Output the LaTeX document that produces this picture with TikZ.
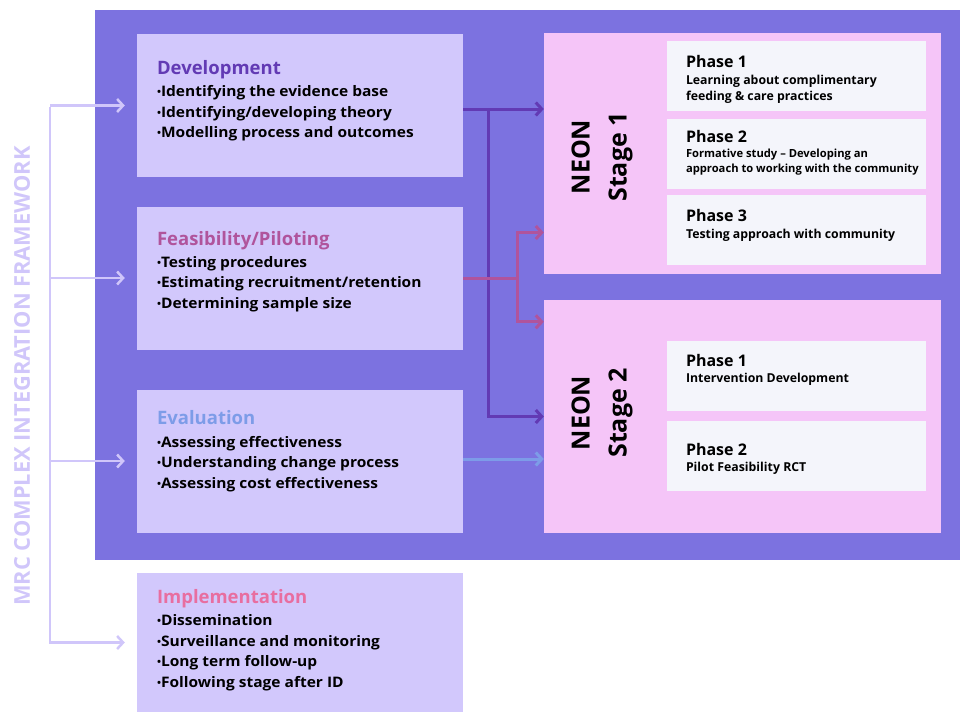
\documentclass[tikz,border=0pt]{standalone}
\usepackage{fontspec}
\setmainfont{Open Sans}
\newfontfamily\widesans{Open Sans}[FakeStretch=1.07]
\usetikzlibrary{arrows.meta}

\definecolor{framebg}{RGB}{124,114,224}
\definecolor{boxbg}{RGB}{210,200,252}
\definecolor{stagebg}{RGB}{245,197,248}
\definecolor{phasebg}{RGB}{244,245,251}
\definecolor{devcol}{RGB}{98,58,180}
\definecolor{feacol}{RGB}{176,84,156}
\definecolor{evacol}{RGB}{125,156,232}
\definecolor{impcol}{RGB}{232,110,160}
\definecolor{mrccol}{RGB}{208,198,250}

\newcommand\bul{\raisebox{1.2pt}{\fontsize{10}{10}\selectfont•}}

\tikzset{
  mrcbox/.style={fill=boxbg, inner sep=0pt, minimum width=326pt, minimum height=143pt},
  stagebox/.style={fill=stagebg, inner sep=0pt, minimum width=397pt},
  phasebox/.style={fill=phasebg, inner sep=0pt, minimum width=259pt, minimum height=70pt},
  boxtitle/.style={anchor=base west, inner sep=0pt, font=\fontsize{18.5}{22}\selectfont\bfseries},
  bullets/.style={anchor=base west, inner sep=0pt, align=left, font=\widesans\fontsize{14.5}{20.5}\selectfont\bfseries},
  phasetitle/.style={anchor=base west, inner sep=0pt, font=\fontsize{16}{18}\selectfont\bfseries},
  phasetext/.style={anchor=base west, inner sep=0pt, align=left, font=\fontsize{12.3}{16}\selectfont\bfseries},
  stagename/.style={rotate=90, align=center, inner sep=0pt, font=\fontsize{25}{37}\selectfont\bfseries},
  arr/.style={line width=3pt, -{Straight Barb[length=6pt, width=13pt]}},
  bracket/.style={mrccol, line width=2.5pt}
}

\begin{document}
\begin{tikzpicture}[x=1pt, y=-1pt]
\useasboundingbox (0,0) rectangle (960,712);
\fill[framebg] (95,10) rectangle (960,560);

% MRC stages
\node[mrcbox] (dev) at (300,105.5) {};
\node[mrcbox] (fea) at (300,278) {};
\node[mrcbox] (eva) at (300,461) {};
\node[mrcbox, minimum height=139pt] (imp) at (300,642.5) {};

% multi-line nodes are placed at the baseline of their last line
\node[boxtitle, devcol] (devt) at ([shift={(20,41)}]dev.north west) {Development};
\node[bullets] (devb) at ([shift={(20,104)}]dev.north west) {\bul Identifying the evidence base\\\bul Identifying/developing theory\\\bul Modelling process and outcomes};
\node[boxtitle, feacol] (feat) at ([shift={(20,39)}]fea.north west) {Feasibility/Piloting};
\node[bullets] (feab) at ([shift={(20,102)}]fea.north west) {\bul Testing procedures\\\bul Estimating recruitment/retention\\\bul Determining sample size};
\node[boxtitle, evacol] (evat) at ([shift={(20,35)}]eva.north west) {Evaluation};
\node[bullets] (evab) at ([shift={(20,99)}]eva.north west) {\bul Assessing effectiveness\\\bul Understanding change process\\\bul Assessing cost effectiveness};
\node[boxtitle, impcol] (impt) at ([shift={(20,31)}]imp.north west) {Implementation};
\node[bullets] (impb) at ([shift={(20,114.5)}]imp.north west) {\bul Dissemination\\\bul Surveillance and monitoring\\\bul Long term follow-up\\\bul Following stage after ID};

% NEON stages
\node[stagebox, minimum height=241pt] (s1) at (742.5,153.5) {};
\node[stagebox, minimum height=233pt] (s2) at (742.5,416.5) {};
\node[stagename] (s1n) at (602,157) {NEON\\Stage 1};
\node[stagename] (s2n) at (602,413) {NEON\\Stage 2};

\node[phasebox] (p11) at (796.5,76) {};
\node[phasebox] (p12) at (796.5,154) {};
\node[phasebox] (p13) at (796.5,230) {};
\node[phasebox] (p21) at (796.5,376) {};
\node[phasebox] (p22) at (796.5,456) {};

\node[phasetitle] at ([shift={(19,27)}]p11.north west) {Phase 1};
\node[phasetext] at ([shift={(19,60)}]p11.north west) {Learning about complimentary\\feeding \& care practices};
\node[phasetitle] at ([shift={(19,24)}]p12.north west) {Phase 2};
\node[phasetext, font=\fontsize{11.2}{15}\selectfont\bfseries] at ([shift={(19,54)}]p12.north west) {Formative study -- Developing an\\approach to working with the community};
\node[phasetitle] at ([shift={(19,27)}]p13.north west) {Phase 3};
\node[phasetext] at ([shift={(19,44)}]p13.north west) {Testing approach with community};
\node[phasetitle] at ([shift={(19,26)}]p21.north west) {Phase 1};
\node[phasetext] at ([shift={(19,42)}]p21.north west) {Intervention Development};
\node[phasetitle] at ([shift={(19,35)}]p22.north west) {Phase 2};
\node[phasetext] at ([shift={(19,51)}]p22.north west) {Pilot Feasibility RCT};

% framework bracket
\node[rotate=90, mrccol, inner sep=0pt, font=\fontsize{21.8}{24}\selectfont\bfseries] (mrc) at (22,376) {MRC COMPLEX INTEGRATION FRAMEWORK};
\coordinate (ftop) at (50,107);
\coordinate (fbot) at (50,644);
\draw[bracket] (ftop) -- (fbot);
\foreach \b in {dev,fea,eva,imp}
  \draw[bracket, -{Straight Barb[length=6pt, width=13pt]}, shorten >=12pt] (\b.west -| ftop) -- (\b.west);

% connectors
\coordinate (dj) at (488,109);
\coordinate (fj) at (517,278);
\draw[arr, devcol, -] ([yshift=-3.5pt]dev.east) -- (dj);
\draw[arr, devcol] (dj) -- (dj -| s1.west);
\draw[arr, devcol] (dj) |- (s2.west);
\draw[arr, feacol, -] (fea.east) -- (fj);
\draw[arr, feacol] (fj) |- ([yshift=-79pt]s1.west);
\draw[arr, feacol] (fj) |- ([yshift=-22pt]s2.north west);
\draw[arr, evacol] ([yshift=2pt]eva.east) -- ([yshift=2pt]eva.east -| s2.west);
\end{tikzpicture}
\end{document}
